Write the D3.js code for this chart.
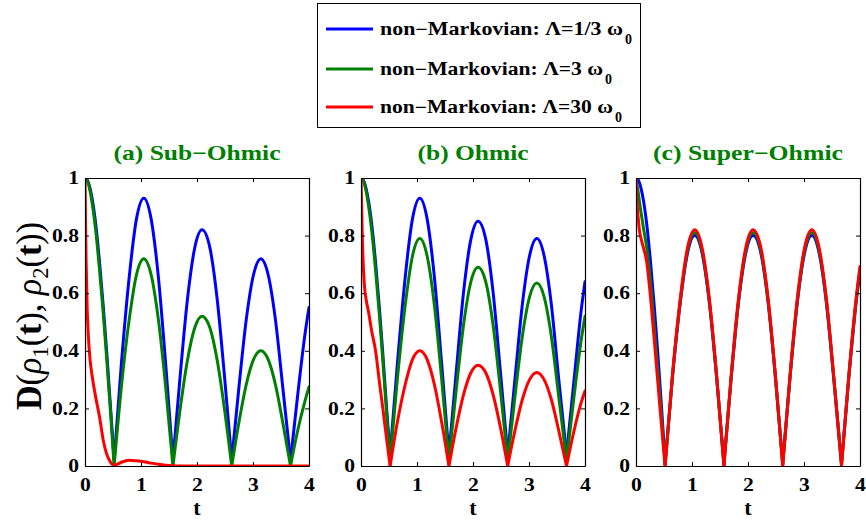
<!DOCTYPE html>
<html>
<head>
<meta charset="utf-8">
<script src="https://cdn.jsdelivr.net/npm/d3@7"></script>
<style>
  body { margin: 0; background: #fff; }
  text { font-family: "Liberation Serif", "Times New Roman", serif; font-weight: bold; }
</style>
</head>
<body>
<div id="chart"></div>
<script>
//data
const tGrid = [0, 0.01, 0.02, 0.04, 0.06, 0.09, 0.13, 0.19, 0.26, 0.33, 0.39, 0.46, 0.52,
  0.65, 0.79, 0.92, 1.05, 1.18, 1.31, 1.44, 1.57,
  1.70, 1.83, 1.96, 2.09, 2.23, 2.36, 2.49, 2.62,
  2.75, 2.88, 3.01, 3.14, 3.27, 3.40, 3.53, 3.67,
  3.80, 3.93, 4.0];

const subBlue = [1, 1, 0.998, 0.993, 0.984, 0.964, 0.925, 0.842, 0.707, 0.545, 0.389, 0.192, 0.02,
  0.356, 0.657, 0.859, 0.93, 0.859, 0.657, 0.356, 0.02,
  0.314, 0.58, 0.758, 0.82, 0.758, 0.58, 0.314, 0.02,
  0.276, 0.509, 0.665, 0.72, 0.665, 0.509, 0.276, 0.02,
  0.25, 0.46, 0.55];
const subGreen = [1, 1, 0.997, 0.99, 0.98, 0.955, 0.91, 0.82, 0.68, 0.52, 0.365, 0.175, 0,
  0.276, 0.509, 0.665, 0.72, 0.665, 0.509, 0.276, 0,
  0.199, 0.368, 0.48, 0.52, 0.48, 0.368, 0.199, 0,
  0.153, 0.283, 0.37, 0.40, 0.37, 0.283, 0.153, 0,
  0.125, 0.227, 0.275];
const subRed = [1, 0.84, 0.71, 0.54, 0.45, 0.37, 0.31, 0.24, 0.17, 0.085, 0.04, 0.012, 0,
  0.013, 0.02, 0.018, 0.015, 0.01, 0.006, 0.003, 0.001,
  0, 0, 0, 0, 0, 0, 0, 0,
  0, 0, 0, 0, 0, 0, 0, 0,
  0, 0, 0];

const ohmBlue = [1, 1, 0.998, 0.993, 0.984, 0.964, 0.925, 0.842, 0.707, 0.545, 0.389, 0.192, 0.04,
  0.356, 0.657, 0.859, 0.93, 0.859, 0.657, 0.356, 0.04,
  0.326, 0.601, 0.785, 0.85, 0.785, 0.601, 0.326, 0.04,
  0.303, 0.559, 0.73, 0.79, 0.73, 0.559, 0.303, 0.04,
  0.29, 0.537, 0.64];
const ohmGreen = [1, 1, 0.997, 0.99, 0.98, 0.955, 0.91, 0.82, 0.68, 0.52, 0.365, 0.175, 0.02,
  0.303, 0.559, 0.73, 0.79, 0.73, 0.559, 0.303, 0.02,
  0.264, 0.488, 0.638, 0.69, 0.638, 0.488, 0.264, 0.02,
  0.243, 0.449, 0.587, 0.635, 0.587, 0.449, 0.243, 0.02,
  0.235, 0.435, 0.52];
const ohmRed = [1, 0.92, 0.82, 0.70, 0.63, 0.58, 0.54, 0.47, 0.40, 0.29, 0.20, 0.09, 0,
  0.153, 0.283, 0.37, 0.40, 0.37, 0.283, 0.153, 0,
  0.134, 0.247, 0.323, 0.35, 0.323, 0.247, 0.134, 0,
  0.124, 0.23, 0.30, 0.325, 0.30, 0.23, 0.124, 0,
  0.119, 0.219, 0.26];

const supBlue = [1, 1, 0.998, 0.993, 0.984, 0.964, 0.925, 0.842, 0.707, 0.545, 0.389, 0.192, 0.01,
  0.306, 0.566, 0.739, 0.80, 0.739, 0.566, 0.306, 0.01,
  0.306, 0.566, 0.739, 0.80, 0.739, 0.566, 0.306, 0.01,
  0.306, 0.566, 0.739, 0.80, 0.739, 0.566, 0.306, 0.01,
  0.306, 0.566, 0.676];
const supGreen = [1, 0.99, 0.975, 0.95, 0.92, 0.88, 0.83, 0.76, 0.64, 0.47, 0.33, 0.16, 0.005,
  0.31, 0.573, 0.748, 0.81, 0.748, 0.573, 0.31, 0.005,
  0.31, 0.573, 0.748, 0.81, 0.748, 0.573, 0.31, 0.005,
  0.31, 0.573, 0.748, 0.81, 0.748, 0.573, 0.31, 0.005,
  0.31, 0.573, 0.684];
const supRed = [1, 0.95, 0.91, 0.86, 0.82, 0.79, 0.76, 0.71, 0.585, 0.43, 0.29, 0.13, 0,
  0.314, 0.58, 0.758, 0.82, 0.758, 0.58, 0.314, 0,
  0.314, 0.58, 0.758, 0.82, 0.758, 0.58, 0.314, 0,
  0.314, 0.58, 0.758, 0.82, 0.758, 0.58, 0.314, 0,
  0.314, 0.58, 0.693];

const panelTitles = ["(a) Sub\u2212Ohmic", "(b) Ohmic", "(c) Super\u2212Ohmic"];
const legendCutoffs = ["1/3", "3", "30"];
const xTicks = [0, 1, 2, 3, 4];
const yTicks = [0, 0.2, 0.4, 0.6, 0.8, 1];

//constants
const width = 866,
  height = 520,
  colors = ["#0000ff", "#008000", "#ff0000"],
  panelLeft = [85, 361, 636],
  panelWidth = 224,
  plotTop = 178,
  plotBottom = 466,
  titleWidths = [167, 111, 190],
  legendWidths = [243, 223, 233],
  legendY = [29, 69, 107];

const panels = [
  [subBlue, subGreen, subRed],
  [ohmBlue, ohmGreen, ohmRed],
  [supBlue, supGreen, supRed]
];

const svg = d3.select("#chart").append("svg")
  .attr("width", width)
  .attr("height", height);

svg.append("rect").attr("width", width).attr("height", height).attr("fill", "#fff");

const yScale = d3.scaleLinear().domain([0, 1]).range([plotBottom, plotTop]);

// split a series at its cusps so each arch is its own smooth piece
function arches(values) {
  const pts = values.map((v, i) => [tGrid[i], v]);
  const pieces = [];
  let cur = [pts[0]];
  for (let i = 1; i < pts.length; i++) {
    cur.push(pts[i]);
    const isMin = i < pts.length - 1 && pts[i][1] < pts[i - 1][1] && pts[i][1] <= pts[i + 1][1];
    if (isMin) {
      pieces.push(cur);
      cur = [pts[i]];
    }
  }
  if (cur.length > 1) pieces.push(cur);
  return pieces;
}

panels.forEach((series, p) => {
  const x0 = panelLeft[p];
  const xScale = d3.scaleLinear().domain([0, 4]).range([x0, x0 + panelWidth]);

  svg.append("clipPath").attr("id", "clip" + p)
    .append("rect")
    .attr("x", x0).attr("y", plotTop)
    .attr("width", panelWidth).attr("height", plotBottom - plotTop);

  const line = d3.line()
    .x(d => xScale(d[0]))
    .y(d => yScale(d[1]))
    .curve(d3.curveMonotoneX);

  const g = svg.append("g").attr("clip-path", `url(#clip${p})`);
  series.forEach((values, s) => {
    g.selectAll(null)
      .data(arches(values))
      .join("path")
      .attr("d", line)
      .attr("fill", "none")
      .attr("stroke", colors[s])
      .attr("stroke-width", 3)
      .attr("stroke-linejoin", "round")
      .attr("stroke-linecap", "round");
  });

  // axes, ticks pointing inward on all four sides
  const axisBottom = d3.axisBottom(xScale).tickValues(xTicks).tickSizeInner(-4).tickSizeOuter(0)
    .tickPadding(12).tickFormat(d => String(d));
  const axisTop = d3.axisTop(xScale).tickValues(xTicks).tickSizeInner(-4).tickSizeOuter(0).tickFormat("");
  const axisLeft = d3.axisLeft(yScale).tickValues(yTicks).tickSizeInner(-4).tickSizeOuter(0)
    .tickPadding(5).tickFormat(d => String(d));
  const axisRight = d3.axisRight(yScale).tickValues(yTicks).tickSizeInner(-4).tickSizeOuter(0).tickFormat("");

  const gb = svg.append("g").attr("transform", `translate(0,${plotBottom})`).call(axisBottom);
  svg.append("g").attr("transform", `translate(0,${plotTop})`).call(axisTop);
  const gl = svg.append("g").attr("transform", `translate(${x0},0)`).call(axisLeft);
  svg.append("g").attr("transform", `translate(${x0 + panelWidth},0)`).call(axisRight);

  svg.selectAll(".domain").attr("stroke", "#000").attr("stroke-width", 1.2);
  svg.selectAll(".tick line").attr("stroke", "#000");
  [gb, gl].forEach(a => a.selectAll("text")
    .attr("transform", "scale(1.2,1)")
    .style("font-size", "18px")
    .style("font-weight", "bold")
    .style("font-family", "'Liberation Serif', serif")
    .attr("fill", "#000"));

  // panel title
  svg.append("text")
    .attr("x", x0 + panelWidth / 2)
    .attr("y", 160)
    .attr("text-anchor", "middle")
    .attr("fill", "#008000")
    .attr("textLength", titleWidths[p])
    .attr("lengthAdjust", "spacingAndGlyphs")
    .style("font-size", "21px")
    .text(panelTitles[p]);

  // x label
  svg.append("text")
    .attr("x", x0 + panelWidth / 2)
    .attr("y", 515)
    .attr("text-anchor", "middle")
    .style("font-size", "22px")
    .text("t");
});

// y label
const ylab = svg.append("text")
  .attr("transform", "translate(41,316) rotate(-90)")
  .attr("text-anchor", "middle")
  .attr("textLength", 188)
  .attr("lengthAdjust", "spacingAndGlyphs")
  .style("font-size", "36px")
  .style("font-weight", "normal");
ylab.append("tspan").style("font-weight", "bold").text("D");
ylab.append("tspan").text("(");
ylab.append("tspan").style("font-style", "italic").text("\u03c1");
ylab.append("tspan").attr("dy", 7).style("font-size", "24px").text("1");
ylab.append("tspan").attr("dy", -7).text("(");
ylab.append("tspan").style("font-weight", "bold").text("t");
ylab.append("tspan").text("), ");
ylab.append("tspan").style("font-style", "italic").text("\u03c1");
ylab.append("tspan").attr("dy", 7).style("font-size", "24px").text("2");
ylab.append("tspan").attr("dy", -7).text("(");
ylab.append("tspan").style("font-weight", "bold").text("t");
ylab.append("tspan").text("))");

// legend
const legend = svg.append("g");
legend.append("rect")
  .attr("x", 317.5).attr("y", 3.5)
  .attr("width", 323).attr("height", 124)
  .attr("fill", "#fff")
  .attr("stroke", "#000")
  .attr("stroke-width", 1);

legendCutoffs.forEach((c, i) => {
  legend.append("line")
    .attr("x1", 326).attr("x2", 373)
    .attr("y1", legendY[i]).attr("y2", legendY[i])
    .attr("stroke", colors[i])
    .attr("stroke-width", 3);
  legend.append("text")
    .attr("x", 380)
    .attr("y", legendY[i] + 6)
    .attr("textLength", legendWidths[i])
    .attr("lengthAdjust", "spacingAndGlyphs")
    .style("font-size", "18px")
    .text(`non\u2212Markovian: \u039b=${c} \u03c9`);
  legend.append("text")
    .attr("x", 380 + legendWidths[i] + 2)
    .attr("y", legendY[i] + 15)
    .style("font-size", "14px")
    .text("0");
});
</script>
</body>
</html>
